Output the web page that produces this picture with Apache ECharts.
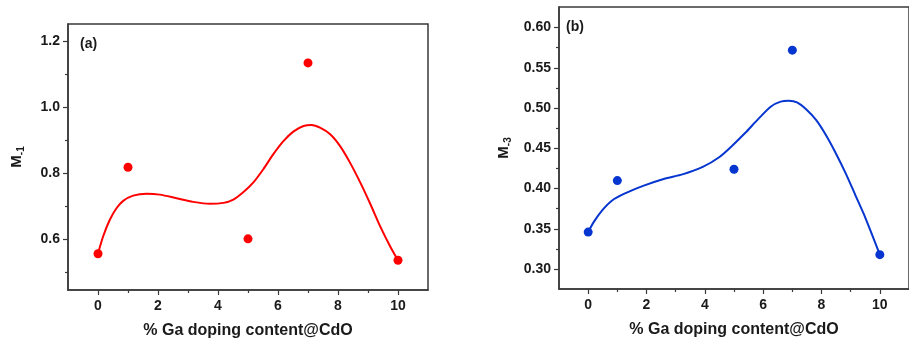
<!DOCTYPE html>
<html>
<head>
<meta charset="utf-8">
<script src="https://cdn.jsdelivr.net/npm/echarts@6/dist/echarts.min.js"></script>
<style>
  html, body { margin: 0; padding: 0; background: #fff; }
  #chart { width: 909px; height: 344px; }
</style>
</head>
<body>
<div id="chart"></div>
<script>
// Ga doping content (%) of the CdO samples
const dopingX = [0, 1, 5, 7, 10];

// Panel (a): M-1 measured values
const m1Values = [0.556, 0.818, 0.601, 1.134, 0.536];
// Panel (a): smoothed trend curve
const m1CurveX = [0, 0.17, 0.39, 0.61, 0.84, 1.17, 1.62, 2.06, 2.62, 3.17, 3.73, 4.18, 4.51, 4.84, 5.18, 5.51, 5.84, 6.18, 6.51, 6.85, 7.12, 7.40, 7.74, 8.07, 8.40, 8.74, 9.07, 9.41, 9.74, 10];
const m1CurveY = [0.556, 0.608, 0.658, 0.693, 0.716, 0.732, 0.738, 0.735, 0.724, 0.713, 0.707, 0.710, 0.720, 0.742, 0.772, 0.812, 0.857, 0.897, 0.926, 0.943, 0.946, 0.938, 0.918, 0.882, 0.832, 0.772, 0.708, 0.638, 0.578, 0.536];

// Panel (b): M-3 measured values
const m3Values = [0.346, 0.410, 0.424, 0.572, 0.318];
// Panel (b): smoothed trend curve
const m3CurveX = [0, 0.20, 0.48, 0.81, 1.26, 1.93, 2.59, 3.26, 3.93, 4.49, 4.93, 5.38, 5.82, 6.27, 6.60, 6.88, 7.16, 7.49, 7.82, 8.16, 8.49, 8.83, 9.16, 9.49, 10];
const m3CurveY = [0.346, 0.359, 0.373, 0.385, 0.394, 0.404, 0.412, 0.418, 0.427, 0.439, 0.453, 0.469, 0.486, 0.502, 0.508, 0.509, 0.507, 0.498, 0.485, 0.466, 0.444, 0.419, 0.392, 0.365, 0.318];

// Tick positions
const xMajorTicks = [0, 2, 4, 6, 8, 10];
const xMinorTicks = [1, 3, 5, 7, 9];
const m1MajorTicks = [0.6, 0.8, 1.0, 1.2];
const m1MinorTicks = [0.5, 0.7, 0.9, 1.1];
const m3MajorTicks = [0.30, 0.35, 0.40, 0.45, 0.50, 0.55, 0.60];
const m3MinorTicks = [0.325, 0.375, 0.425, 0.475, 0.525, 0.575];

const xTitle = '% Ga doping content@CdO';
const FONT = '"Liberation Sans", Arial, sans-serif';
const AXIS_COLOR = '#3a3a3a';
const TEXT_COLOR = '#1a1a1a';
const RED = '#ff0000';
const BLUE = '#0636cf';

const zip = (xs, ys) => xs.map((x, i) => [x, ys[i]]);

function majorX(gridIndex) {
  return {
    type: 'value', gridIndex, min: -1, max: 11, position: 'bottom',
    axisLine: { show: true, onZero: false, lineStyle: { color: AXIS_COLOR, width: 1.5 } },
    axisTick: { show: true, customValues: xMajorTicks, length: 5, lineStyle: { color: AXIS_COLOR, width: 1.2 } },
    axisLabel: { customValues: xMajorTicks, margin: 9, color: TEXT_COLOR, fontFamily: FONT, fontWeight: 'bold', fontSize: 14 },
    splitLine: { show: false },
    name: xTitle, nameLocation: 'middle', nameGap: 33,
    nameTextStyle: { color: TEXT_COLOR, fontFamily: FONT, fontWeight: 'bold', fontSize: 16 }
  };
}
function minorX(gridIndex) {
  return {
    type: 'value', gridIndex, min: -1, max: 11, position: 'bottom',
    axisLine: { show: false, onZero: false },
    axisTick: { show: true, customValues: xMinorTicks, length: 3, lineStyle: { color: AXIS_COLOR, width: 1.2 } },
    axisLabel: { show: false },
    splitLine: { show: false }
  };
}
function majorY(gridIndex, min, max, ticks, fmt, nameRich, gap) {
  return {
    type: 'value', gridIndex, min, max, position: 'left',
    axisLine: { show: true, onZero: false, lineStyle: { color: AXIS_COLOR, width: 1.5 } },
    axisTick: { show: true, customValues: ticks, length: 5, lineStyle: { color: AXIS_COLOR, width: 1.2 } },
    axisLabel: { customValues: ticks, margin: 8, formatter: fmt, color: TEXT_COLOR, fontFamily: FONT, fontWeight: 'bold', fontSize: 14 },
    splitLine: { show: false },
    name: nameRich, nameLocation: 'middle', nameRotate: 90, nameGap: gap,
    nameTextStyle: {
      color: TEXT_COLOR, fontFamily: FONT, fontWeight: 'bold', fontSize: 15,
      rich: {
        m: { fontFamily: FONT, fontWeight: 'bold', fontSize: 15, color: TEXT_COLOR },
        s: { fontFamily: FONT, fontWeight: 'bold', fontSize: 10, color: TEXT_COLOR, verticalAlign: 'bottom', padding: [8, 0, 0, 0] }
      }
    }
  };
}
function minorY(gridIndex, min, max, ticks) {
  return {
    type: 'value', gridIndex, min, max, position: 'left',
    axisLine: { show: false, onZero: false },
    axisTick: { show: true, customValues: ticks, length: 3, lineStyle: { color: AXIS_COLOR, width: 1.2 } },
    axisLabel: { show: false },
    splitLine: { show: false }
  };
}

const chart = echarts.init(document.getElementById('chart'), null, { renderer: 'canvas' });

chart.setOption({
  animation: false,
  backgroundColor: '#ffffff',
  grid: [
    { left: 68, top: 24, width: 360, height: 270, show: true, borderColor: AXIS_COLOR, borderWidth: 1.5, backgroundColor: 'transparent' },
    { left: 559, top: 7, width: 359, height: 282, show: true, borderColor: AXIS_COLOR, borderWidth: 1.5, backgroundColor: 'transparent' }
  ],
  xAxis: [majorX(0), minorX(0), majorX(1), minorX(1)],
  yAxis: [
    majorY(0, 0.446, 1.252, m1MajorTicks, v => v.toFixed(1), '{m|M}{s|-1}', 42),
    minorY(0, 0.446, 1.252, m1MinorTicks),
    majorY(1, 0.2753, 0.6256, m3MajorTicks, v => v.toFixed(2), '{m|M}{s|-3}', 46),
    minorY(1, 0.2753, 0.6256, m3MinorTicks)
  ],
  graphic: [
    { type: 'text', left: 80, top: 37, style: { text: '(a)', font: 'bold 14px ' + FONT, fill: TEXT_COLOR } },
    { type: 'text', left: 566, top: 20, style: { text: '(b)', font: 'bold 14px ' + FONT, fill: TEXT_COLOR } }
  ],
  series: [
    {
      type: 'line', xAxisIndex: 0, yAxisIndex: 0, data: zip(m1CurveX, m1CurveY),
      smooth: 0.3, showSymbol: false, lineStyle: { color: RED, width: 2 }, z: 2
    },
    {
      type: 'scatter', xAxisIndex: 0, yAxisIndex: 0, data: zip(dopingX, m1Values),
      symbolSize: 9, itemStyle: { color: RED, opacity: 1 }, z: 3
    },
    {
      type: 'line', xAxisIndex: 2, yAxisIndex: 2, data: zip(m3CurveX, m3CurveY),
      smooth: 0.3, showSymbol: false, lineStyle: { color: BLUE, width: 2 }, z: 2
    },
    {
      type: 'scatter', xAxisIndex: 2, yAxisIndex: 2, data: zip(dopingX, m3Values),
      symbolSize: 9, itemStyle: { color: BLUE, opacity: 1 }, z: 3
    }
  ]
});
</script>
</body>
</html>
